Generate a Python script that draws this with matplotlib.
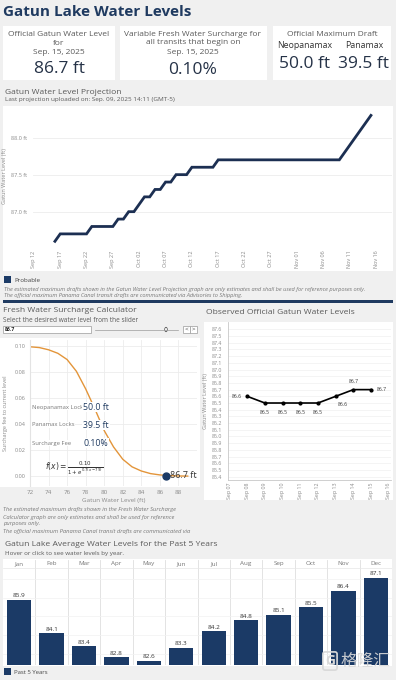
#!/usr/bin/env python3
"""Gatun Lake water level dashboard, rebuilt as a single static figure."""
import numpy as np
import pandas as pd

import matplotlib

matplotlib.use("Agg")
import matplotlib.pyplot as plt
import matplotlib.dates as mdates
from matplotlib.patches import Rectangle, Circle
from matplotlib.lines import Line2D

W, H = 396, 680
NAVY = "#1b3a66"
TITLE = "#1f3a60"
GREY_TXT = "#5a5a5a"
TICK = "#8a8a8a"
GRID = "#ececec"
ORANGE = "#e3953a"

# --- KPI cards ---
kpi_level = "86.7 ft"
kpi_surcharge = "0.10%"
kpi_date = "Sep. 15, 2025"
draft_neo = "50.0 ft"
draft_pan = "39.5 ft"

# --- projection (breakpoints of the probable line) ---
proj_dates = ["2025-09-16", "2025-09-17", "2025-09-22", "2025-09-23", "2025-09-27",
              "2025-09-28", "2025-09-29", "2025-09-30", "2025-10-01", "2025-10-02",
              "2025-10-03", "2025-10-04", "2025-10-05", "2025-10-06", "2025-10-07",
              "2025-10-08", "2025-10-09", "2025-10-11", "2025-10-12", "2025-10-16",
              "2025-10-17", "2025-11-09", "2025-11-15"]
proj_level = [86.6, 86.7, 86.7, 86.8, 86.8, 86.9, 86.9, 87.0, 87.0, 87.1,
              87.2, 87.2, 87.3, 87.3, 87.4, 87.4, 87.5, 87.5, 87.6, 87.6,
              87.7, 87.7, 88.3]

# --- surcharge curve ---
sur_x = [72, 73, 74, 75, 76, 77, 78, 79, 80, 81, 82, 83, 84, 85, 86, 87, 88, 89]
sur_y = [0.0993, 0.0987, 0.0970, 0.0943, 0.0895, 0.0805, 0.0670, 0.0515, 0.0350,
         0.0225, 0.0130, 0.0072, 0.0040, 0.0020, 0.0010, 0.0005, 0.0002, 0.0001]
sel_level = 86.7
sel_fee = 0.0005

# --- observed official levels ---
obs_dates = ["2025-09-08", "2025-09-09", "2025-09-10", "2025-09-11",
             "2025-09-12", "2025-09-13", "2025-09-14", "2025-09-15"]
obs_level = [86.6, 86.5, 86.5, 86.5, 86.5, 86.6, 86.7, 86.7]

# --- 5-year monthly averages ---
months = ["Jan", "Feb", "Mar", "Apr", "May", "Jun", "Jul", "Aug", "Sep", "Oct", "Nov", "Dec"]
avg_level = [85.9, 84.1, 83.4, 82.8, 82.6, 83.3, 84.2, 84.8, 85.1, 85.5, 86.4, 87.1]

plt.rcParams["font.family"] = ["Open Sans", "DejaVu Sans", "Noto Sans CJK SC"]

fig = plt.figure(figsize=(W / 100, H / 100), dpi=100, facecolor="#f0f0f0")


def box(x0, y0, x1, y1, color, ec="none", lw=0, z=-5):
    fig.add_artist(Rectangle((x0 / W, 1 - y1 / H), (x1 - x0) / W, (y1 - y0) / H,
                             transform=fig.transFigure, facecolor=color,
                             edgecolor=ec, linewidth=lw, zorder=z))


def txt(x, y, s, **kw):
    kw.setdefault("va", "center")
    return fig.text(x / W, 1 - y / H, s, **kw)


def axes(x0, y0, x1, y1):
    ax = fig.add_axes([x0 / W, 1 - y1 / H, (x1 - x0) / W, (y1 - y0) / H])
    ax.set_facecolor("none")
    for s in ax.spines.values():
        s.set_visible(False)
    ax.tick_params(length=0, colors=TICK, labelsize=4)
    return ax


# ---------------- header + cards ----------------
txt(3, 12, "Gatun Lake Water Levels", fontsize=11, weight="bold", color=TITLE)

box(3, 26, 115, 80, "white")
box(120, 26, 267, 80, "white")
box(273, 26, 391, 80, "white")

for y, s in [(35, "Official Gatun Water Level"), (43.5, "for"), (52, kpi_date)]:
    txt(59, y, s, fontsize=6, color=GREY_TXT, ha="center")
txt(60, 69, kpi_level, fontsize=12.5, color="#253247", ha="center")

for y, s in [(34, "Variable Fresh Water Surcharge for"),
             (43, "all transits that begin on"), (52, kpi_date)]:
    txt(193, y, s, fontsize=6, color=GREY_TXT, ha="center")
txt(193, 70, kpi_surcharge, fontsize=12.5, color="#253247", ha="center")

txt(332, 34, "Official Maximum Draft", fontsize=6, color=GREY_TXT, ha="center")
txt(305, 45, "Neopanamax", fontsize=6.3, color="#333333", ha="center")
txt(364, 45, "Panamax", fontsize=6.3, color="#333333", ha="center")
txt(305, 64, draft_neo, fontsize=12.5, color="#253247", ha="center")
txt(364, 64, draft_pan, fontsize=12.5, color="#253247", ha="center")

# ---------------- projection ----------------
txt(5, 92, "Gatun Water Level Projection", fontsize=6.1, color=GREY_TXT)
txt(5, 100, "Last projection uploaded on: Sep. 09, 2025 14:11 (GMT-5)",
    fontsize=4.6, color=GREY_TXT)
box(3, 106, 393, 271, "white")

ax1 = axes(33, 108, 392, 245)
pd_dates = pd.to_datetime(proj_dates)
ax1.plot(pd_dates, proj_level, color="#1c2f52", lw=2.0, solid_joinstyle="miter")
ax1.set_ylim(86.55, 88.4)
ax1.set_xlim(pd.Timestamp("2025-09-11 20:00"), pd.Timestamp("2025-11-19"))
ax1.set_yticks([87.0, 87.5, 88.0])
ax1.set_yticklabels(["87.0 ft", "87.5 ft", "88.0 ft"])
ax1.set_xticks(pd.date_range("2025-09-12", "2025-11-16", freq="5D"))
ax1.xaxis.set_major_formatter(mdates.DateFormatter("%b %d"))
ax1.tick_params(axis="x", rotation=90, pad=4)
ax1.tick_params(axis="y", pad=4)
ax1.grid(axis="y", color=GRID, lw=0.6)
ax1.set_ylabel("Gatun Water Level (ft)", fontsize=4, color=TICK, labelpad=3)

box(4, 276, 11, 283, NAVY)
txt(14, 280, "Probable", fontsize=4.5, color="#444444")
txt(4, 289, "The estimated maximum drafts shown in the Gatun Water Level Projection graph "
    "are only estimates and shall be used for reference purposes only.",
    fontsize=4.05, color="#777777", style="italic")
txt(4, 296, "The official maximum Panama Canal transit drafts are communicated via "
    "Advisories to Shipping.", fontsize=4.05, color="#777777", style="italic")
box(3, 300, 393, 302.5, TITLE)

# ---------------- surcharge calculator ----------------
txt(3, 311, "Fresh Water Surcharge Calculator", fontsize=6.1, color=GREY_TXT)
txt(3, 320, "Select the desired water level from the slider", fontsize=4.7, color=GREY_TXT)
box(3, 326, 91, 333, "white", ec="#9a9a9a", lw=0.5)
txt(5, 329.5, "86.7", fontsize=3.8, weight="bold", color="#222222")
fig.add_artist(Line2D([95 / W, 178 / W], [1 - 329.5 / H] * 2, color="#9a9a9a", lw=0.5))
fig.add_artist(Circle((166 / W, 1 - 329.5 / H), 1.3 / W, transform=fig.transFigure,
                      facecolor="white", edgecolor="#444444", lw=0.5))
box(183, 325.5, 189.5, 333, "white", ec="#9a9a9a", lw=0.5)
box(190, 325.5, 196.5, 333, "white", ec="#9a9a9a", lw=0.5)
txt(186.3, 329.3, "<", fontsize=4.5, color="#444444", ha="center")
txt(193.3, 329.3, ">", fontsize=4.5, color="#444444", ha="center")

box(0, 338, 200, 487, "white")
ax2 = axes(30, 340, 197, 486)
ax2.plot(sur_x, sur_y, color=ORANGE, lw=1.0)
ax2.plot([sel_level], [sel_fee], "o", color=NAVY, ms=5, zorder=5)
ax2.text(sel_level + 0.35, sel_fee, f"{sel_level} ft", fontsize=6.5, color="#333333",
         va="center", zorder=6)
ax2.set_xlim(72, 90)
ax2.set_ylim(-0.0075, 0.1045)
ax2.set_xticks(np.arange(72, 89, 2))
ax2.set_yticks(np.arange(0, 0.101, 0.02))
ax2.yaxis.set_major_formatter(matplotlib.ticker.FormatStrFormatter("%.2f"))
ax2.tick_params(axis="x", labelsize=4.5, pad=3)
ax2.tick_params(axis="y", pad=3)
ax2.grid(color=GRID, lw=0.6)
ax2.spines["left"].set_visible(True)
ax2.spines["left"].set_color("#e3e3e3")
ax2.set_xlabel("Gatun Water Level (ft)", fontsize=4.5, color=TICK, labelpad=2)
ax2.set_ylabel("Surcharge fee to current level", fontsize=4, color=TICK, labelpad=5)

for y, lab, val in [(407, "Neopanamax Lock", draft_neo), (425, "Panamax Locks", draft_pan),
                    (443, "Surcharge Fee", kpi_surcharge)]:
    t = txt(32, y, lab, fontsize=4.2, color="#777777")
    t.set_bbox(dict(facecolor="white", edgecolor="none", pad=0.6))
    v = txt(83, y, val, fontsize=6.3, color=TITLE)
    v.set_bbox(dict(facecolor="white", edgecolor="none", pad=0.6))
txt(45, 468, r"$f(x) = \frac{0.10}{1 + e^{0.7(x-79)}}$", fontsize=5.5, color="#333333")

for i, s in enumerate(["The estimated maximum drafts shown in the Fresh Water Surcharge",
                       "Calculator graph are only estimates and shall be used for reference",
                       "purposes only.",
                       "The official maximum Panama Canal transit drafts are communicated via"]):
    txt(3, 510 + 7 * i, s, fontsize=4.15, color="#777777", style="italic")

# ---------------- observed levels ----------------
txt(206, 313, "Observed Official Gatun Water Levels", fontsize=6.1, color=GREY_TXT)
box(204, 322, 393, 500, "white")
ax3 = axes(228, 322, 391, 480)
od = pd.to_datetime(obs_dates)
ax3.plot(od, obs_level, color="black", lw=1.2, marker="o", ms=2, zorder=3)
ax3.set_ylim(85.35, 87.71)
ax3.set_xlim(pd.Timestamp("2025-09-06 22:00"), pd.Timestamp("2025-09-16 03:00"))
ax3.set_yticks(np.round(np.arange(85.4, 87.61, 0.1), 1))
ax3.yaxis.set_major_formatter(matplotlib.ticker.FormatStrFormatter("%.1f"))
ax3.set_xticks(pd.date_range("2025-09-07", "2025-09-16", freq="D"))
ax3.xaxis.set_major_formatter(mdates.DateFormatter("%b %d"))
ax3.tick_params(axis="x", rotation=90, pad=2, labelsize=3.8)
ax3.tick_params(axis="y", labelsize=3.8, pad=4)
ax3.grid(axis="y", color="#f0f0f0", lw=0.5)
for s in ("left", "bottom"):
    ax3.spines[s].set_visible(True)
    ax3.spines[s].set_color("#c8c8c8")
    ax3.spines[s].set_linewidth(0.6)
ax3.set_ylabel("Gatun Water Level (ft)", fontsize=4, color=TICK, labelpad=3)
offsets = [(-4, 0, "right", "center"), (0, -5, "center", "top"), (0, -5, "center", "top"),
           (0, -5, "center", "top"), (0, -5, "center", "top"), (5, -4, "center", "top"),
           (0, 4, "center", "bottom"), (4, 0, "left", "center")]
for d, v, (dx, dy, ha, va) in zip(od, obs_level, offsets):
    ax3.annotate(f"{v:.1f}", (d, v), xytext=(dx, dy), textcoords="offset points",
                 fontsize=3.6, color="#333333", ha=ha, va=va)

# ---------------- 5-year averages ----------------
txt(5, 545, "Gatun Lake Average Water Levels for the Past 5 Years", fontsize=6.1,
    color=GREY_TXT)
txt(5, 553, "Hover or click to see water levels by year.", fontsize=4.5, color=GREY_TXT)
box(3, 559, 392, 666, "white")
ax4 = axes(3, 560, 392, 665)
xs = np.arange(len(months))
base = 82.38
ax4.bar(xs, np.array(avg_level) - base, bottom=base, width=0.75, color=NAVY, zorder=3)
for x, v in zip(xs, avg_level):
    ax4.text(x, v + 0.08, f"{v:.1f}", ha="center", va="bottom", fontsize=4.6,
             color="#333333", zorder=4)
    ax4.text(x, 87.84, months[x], ha="center", va="center", fontsize=4.5, color="#777777")
ax4.set_xlim(-0.5, 11.5)
ax4.set_ylim(base, 88.05)
for k in range(11):
    ax4.axvline(k + 0.5, color="#dedede", lw=0.6, zorder=1)
for g in (83, 84, 85, 86, 87):
    ax4.axhline(g, color="#f2f2f2", lw=0.5, zorder=1)
ax4.axhline(87.62, color="#e6e6e6", lw=0.5, zorder=1)
ax4.set_xticks([])
ax4.set_yticks([])

box(4, 668, 11, 675, NAVY)
txt(14, 672, "Past 5 Years", fontsize=4.3, color="#444444")
txt(330, 661, "G", fontsize=10, weight="bold", color="#d9d9d9", ha="center", zorder=10,
    bbox=dict(boxstyle="round,pad=0.15", facecolor="none", edgecolor="#d9d9d9", lw=1.2))
txt(365, 661, "格隆汇", fontsize=12, color="#d9d9d9", ha="center", alpha=0.9,
    family=["Noto Sans CJK SC"], zorder=10)

fig.savefig("out.png", dpi=100, facecolor=fig.get_facecolor())
